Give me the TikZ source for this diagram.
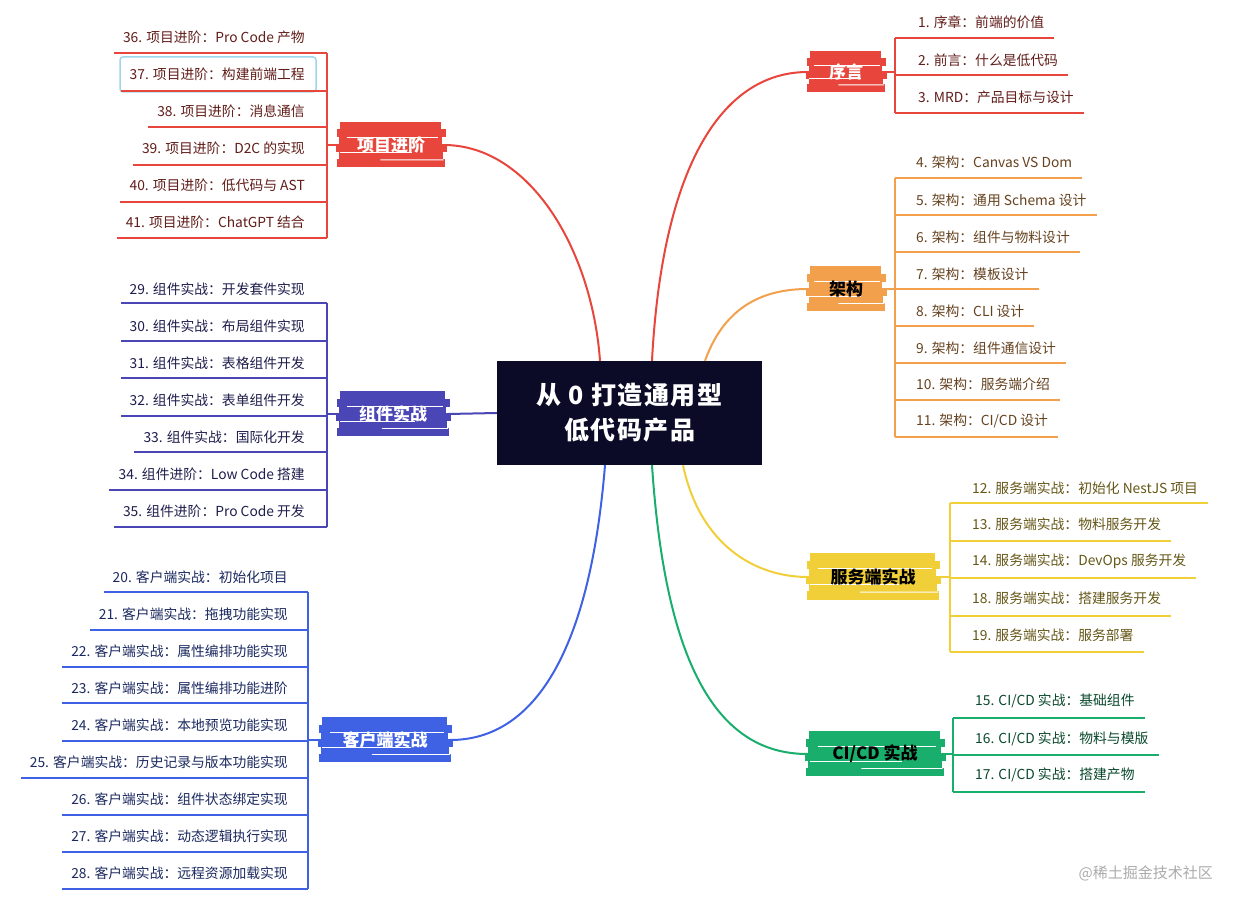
\documentclass[tikz,border=0pt]{standalone}
\usepackage{fontspec}
\setmainfont{Noto Sans CJK SC}
\newfontfamily\rootfont[LetterSpace=6]{Noto Sans CJK SC}
\usetikzlibrary{calc,backgrounds}

\definecolor{cred}{HTML}{E8463C}
\definecolor{corange}{HTML}{F2A04C}
\definecolor{cyellow}{HTML}{F1CF38}
\definecolor{cgreen}{HTML}{19AE6C}
\definecolor{cblue}{HTML}{3F62E4}
\definecolor{cindigo}{HTML}{4A46B6}
\definecolor{cnavy}{HTML}{0B0B28}
\definecolor{chl}{HTML}{9FD7EA}
\definecolor{cwm}{HTML}{ABABAB}

\def\mk{0.09/2/-3,0.25/-1/2,0.41/1/-2,0.57/-2/3,0.73/1/-1,0.89/-1/1}
\def\wl{0.33/0.08/0.95,0.66/0.02/0.7,0.82/0.4/1.0}
\newcommand\marker[2]{%
  \begin{pgfonlayer}{background}
  \foreach \f/\a/\b in \mk {
    \draw[#2, line width=8.2pt, line cap=butt]
      ($(#1.north west)!\f!(#1.south west)+(\a,0)$) --
      ($(#1.north east)!\f!(#1.south east)+(\b,0)$);
  }
  \foreach \f/\s/\e in \wl {
    \draw[white, line width=0.9pt]
      ($($(#1.north west)!\f!(#1.south west)$)!\s!($(#1.north east)!\f!(#1.south east)$)$) --
      ($($(#1.north west)!\f!(#1.south west)$)!\e!($(#1.north east)!\f!(#1.south east)$)$);
  }
  \end{pgfonlayer}}
% right leaf: name, colour, bracket x, text x, text y, underline y, text
\newcommand\leafR[7]{%
  \node[leaf,anchor=west,text=#2!42!black] (#1) at (#4,#5) {#7};
  \coordinate (#1u) at (#3,#6);
  \draw[ul,#2] (#1u) -- ($(#1.east |- #1u)+(10,0)$);}
% left leaf: name, colour, bracket x, text right x, text y, underline y, text
\newcommand\leafL[7]{%
  \node[leaf,anchor=east,text=#2!42!black] (#1) at (#4,#5) {#7};
  \coordinate (#1u) at (#3,#6);
  \draw[ul,#2] (#1u) -- ($(#1.west |- #1u)+(-9,0)$);}

\begin{document}
\begin{tikzpicture}[x=1pt,y=-1pt,
  leaf/.style={inner sep=0pt, font=\fontsize{13.8}{16}\selectfont},
  ul/.style={line width=1.3pt},
  curve/.style={line width=2pt},
  branch/.style={inner sep=0pt, font=\fontsize{17}{19}\selectfont\bfseries},
]
\begin{pgfonlayer}{background}
\fill[white] (0,0) rectangle (1237,909);
\end{pgfonlayer}
\useasboundingbox (0,0) rectangle (1237,909);

% root
\node[fill=cnavy, minimum width=265pt, minimum height=104pt, inner sep=0pt,
      text=white, align=center, font=\rootfont\fontsize{25}{35}\selectfont\bfseries]
      (root) at (629.5,413) {从 0 打造通用型\\低代码产品};

% branches
\node[branch, minimum width=76pt, minimum height=40pt, text=white] (xuyan) at (846,72) {序言};
\node[branch, minimum width=76pt, minimum height=45pt, text=black] (jiagou) at (846,289) {架构};
\node[branch, minimum width=130pt, minimum height=47pt, text=black] (fuwu) at (873,577) {服务端实战};
\node[branch, minimum width=135pt, minimum height=45pt, text=black] (cicd) at (875,754) {CI/CD 实战};
\node[branch, minimum width=130pt, minimum height=45pt, text=white] (kehu) at (385,740) {客户端实战};
\node[branch, minimum width=110pt, minimum height=45pt, text=white] (zujian) at (393,414) {组件实战};
\node[branch, minimum width=105pt, minimum height=46pt, text=white] (xiangmu) at (391,145) {项目进阶};
\marker{xuyan}{cred}
\marker{jiagou}{corange}
\marker{fuwu}{cyellow}
\marker{cicd}{cgreen}
\marker{kehu}{cblue}
\marker{zujian}{cindigo}
\marker{xiangmu}{cred}

% curves
\draw[curve, cred] ([xshift=22.5pt]root.north) .. controls (662,170) and (720,72) .. (xuyan.west);
\draw[curve, cred] ([xshift=-29.5pt]root.north) .. controls (592,250) and (530,145) .. (xiangmu.east);
\draw[curve, corange] ([xshift=75.5pt]root.north) .. controls (725,305) and (765,289) .. (jiagou.west);
\draw[curve, cyellow] ([xshift=53.5pt]root.south) .. controls (700,545) and (755,577) .. (fuwu.west);
\draw[curve, cgreen] ([xshift=22.5pt]root.south) .. controls (665,660) and (715,754) .. (cicd.west);
\draw[curve, cblue] ([xshift=-24.5pt]root.south) .. controls (590,650) and (535,740) .. (kehu.east);
\draw[curve, cindigo] (root.west) -- (zujian.east);

% 序言
\leafR{a1}{cred}{895}{918}{22}{38}{1. 序章：前端的价值}
\leafR{a2}{cred}{895}{918}{60}{75}{2. 前言：什么是低代码}
\leafR{a3}{cred}{895}{918}{97}{113}{3. MRD：产品目标与设计}
\draw[ul,cred] (a1u) -- (a3u);
\draw[ul,cred] (xuyan.east) -- (xuyan.east -| a1u);

% 架构
\leafR{b4}{corange}{895}{916}{162}{178}{4. 架构：Canvas VS Dom}
\leafR{b5}{corange}{895}{916}{200}{215}{5. 架构：通用 Schema 设计}
\leafR{b6}{corange}{895}{916}{237}{252}{6. 架构：组件与物料设计}
\leafR{b7}{corange}{895}{916}{274}{289}{7. 架构：模板设计}
\leafR{b8}{corange}{895}{916}{311}{326}{8. 架构：CLI 设计}
\leafR{b9}{corange}{895}{916}{348}{363}{9. 架构：组件通信设计}
\leafR{b10}{corange}{895}{916}{384}{400}{10. 架构：服务端介绍}
\leafR{b11}{corange}{895}{916}{421}{437}{11. 架构：CI/CD 设计}
\draw[ul,corange] (b4u) -- (b11u);
\draw[ul,corange] (jiagou.east) -- (jiagou.east -| b4u);

% 服务端实战
\leafR{c12}{cyellow}{950}{972}{488}{503}{12. 服务端实战：初始化 NestJS 项目}
\leafR{c13}{cyellow}{950}{972}{524}{541}{13. 服务端实战：物料服务开发}
\leafR{c14}{cyellow}{950}{972}{561}{578}{14. 服务端实战：DevOps 服务开发}
\leafR{c18}{cyellow}{950}{972}{598}{616}{18. 服务端实战：搭建服务开发}
\leafR{c19}{cyellow}{950}{972}{635}{652}{19. 服务端实战：服务部署}
\draw[ul,cyellow] (c12u) -- (c19u);
\draw[ul,cyellow] (fuwu.east) -- (fuwu.east -| c12u);

% CI/CD 实战
\leafR{d15}{cgreen}{953}{975}{701}{718}{15. CI/CD 实战：基础组件}
\leafR{d16}{cgreen}{953}{975}{739}{755}{16. CI/CD 实战：物料与模版}
\leafR{d17}{cgreen}{953}{975}{775}{792}{17. CI/CD 实战：搭建产物}
\draw[ul,cgreen] (d15u) -- (d17u);
\draw[ul,cgreen] (cicd.east) -- (cicd.east -| d15u);

% 项目进阶
\draw[chl, line width=1.5pt, rounded corners=3pt] (120,57) rectangle (316,92);
\leafL{e36}{cred}{327}{305}{37}{53}{36. 项目进阶：Pro Code 产物}
\leafL{e37}{cred}{327}{305}{74}{91}{37. 项目进阶：构建前端工程}
\leafL{e38}{cred}{327}{305}{111}{127}{38. 项目进阶：消息通信}
\leafL{e39}{cred}{327}{305}{148}{165}{39. 项目进阶：D2C 的实现}
\leafL{e40}{cred}{327}{305}{185}{202}{40. 项目进阶：低代码与 AST}
\leafL{e41}{cred}{327}{305}{222}{238}{41. 项目进阶：ChatGPT 结合}
\draw[ul,cred] (e36u) -- (e41u);
\draw[ul,cred] (xiangmu.west) -- (xiangmu.west -| e36u);

% 组件实战
\leafL{f29}{cindigo}{327}{305}{289}{303}{29. 组件实战：开发套件实现}
\leafL{f30}{cindigo}{327}{305}{326}{341}{30. 组件实战：布局组件实现}
\leafL{f31}{cindigo}{327}{305}{363}{378}{31. 组件实战：表格组件开发}
\leafL{f32}{cindigo}{327}{305}{400}{416}{32. 组件实战：表单组件开发}
\leafL{f33}{cindigo}{327}{305}{437}{452}{33. 组件实战：国际化开发}
\leafL{f34}{cindigo}{327}{305}{474}{490}{34. 组件进阶：Low Code 搭建}
\leafL{f35}{cindigo}{327}{305}{511}{527}{35. 组件进阶：Pro Code 开发}
\draw[ul,cindigo] (f29u) -- (f35u);
\draw[ul,cindigo] (zujian.west) -- (zujian.west -| f29u);

% 客户端实战
\leafL{g20}{cblue}{308}{288}{577}{592}{20. 客户端实战：初始化项目}
\leafL{g21}{cblue}{308}{288}{614}{630}{21. 客户端实战：拖拽功能实现}
\leafL{g22}{cblue}{308}{288}{651}{667}{22. 客户端实战：属性编排功能实现}
\leafL{g23}{cblue}{308}{288}{688}{703}{23. 客户端实战：属性编排功能进阶}
\leafL{g24}{cblue}{308}{288}{725}{741}{24. 客户端实战：本地预览功能实现}
\leafL{g25}{cblue}{308}{288}{762}{778}{25. 客户端实战：历史记录与版本功能实现}
\leafL{g26}{cblue}{308}{288}{799}{815}{26. 客户端实战：组件状态绑定实现}
\leafL{g27}{cblue}{308}{288}{836}{852}{27. 客户端实战：动态逻辑执行实现}
\leafL{g28}{cblue}{308}{288}{873}{889}{28. 客户端实战：远程资源加载实现}
\draw[ul,cblue] (g20u) -- (g28u);
\draw[ul,cblue] (kehu.west) -- (kehu.west -| g20u);

% watermark
\node[text=cwm, inner sep=0pt, font=\fontsize{15}{17}\selectfont, anchor=east] (wm) at (1213,873) {@稀土掘金技术社区};
\end{tikzpicture}
\end{document}
